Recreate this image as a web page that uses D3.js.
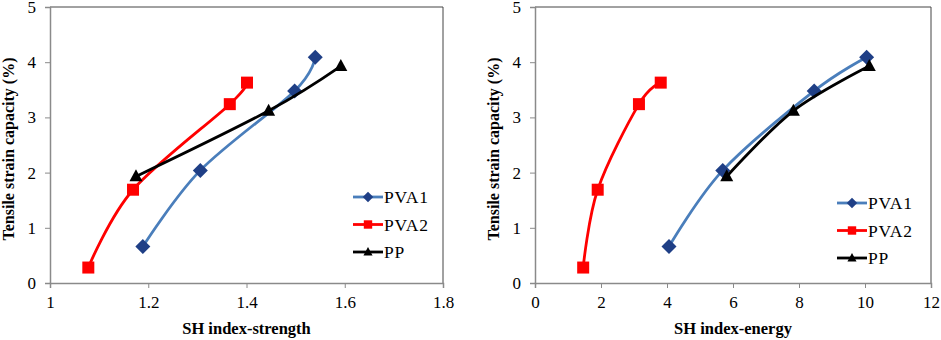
<!DOCTYPE html>
<html><head><meta charset="utf-8">
<script src="https://cdn.jsdelivr.net/npm/d3@7"></script>
<style>body{margin:0;background:#fff}svg{display:block}</style>
</head><body>
<svg id="c" width="941" height="340" style="font-family:'Liberation Serif',serif"></svg>
<script>
const seriesNames = ["PVA1", "PVA2", "PP"];
const seriesColors = ["#4a7ebb", "#ff0000", "#000000"];
const markerColors = ["#1f3f86", "#ff0000", "#000000"];
const yValues = {
  PVA1: [0.66, 2.04, 3.48, 4.09],
  PVA2: [0.28, 1.69, 3.24, 3.63],
  PP:   [1.93, 3.12, 3.93]
};
const xStrength = {
  PVA1: [1.189, 1.306, 1.498, 1.540],
  PVA2: [1.078, 1.169, 1.366, 1.401],
  PP:   [1.175, 1.445, 1.592]
};
const xEnergy = {
  PVA1: [4.06, 5.69, 8.46, 10.05],
  PVA2: [1.46, 1.90, 3.15, 3.81],
  PP:   [5.81, 7.83, 10.13]
};
const yTicks = [0, 1, 2, 3, 4, 5];
const xTicksStrength = [1, 1.2, 1.4, 1.6, 1.8];
const xTicksEnergy = [0, 2, 4, 6, 8, 10, 12];
const yTitle = "Tensile strain capacity (%)";

const FONT = "'Liberation Serif', serif";
const svg = d3.select("#c");

function panel(opt) {
  const g = svg.append("g");
  const x = d3.scaleLinear().domain(opt.xDomain).range([opt.left, opt.right]);
  const y = d3.scaleLinear().domain([0, 5]).range([283, 7]);

  g.append("line").attr("x1", opt.left).attr("x2", opt.right).attr("y1", 7).attr("y2", 7).attr("stroke", "#444").attr("stroke-width", 1);
  g.append("line").attr("x1", opt.right).attr("x2", opt.right).attr("y1", 7).attr("y2", 283).attr("stroke", "#444").attr("stroke-width", 1);

  const xa = g.append("g").attr("transform", "translate(0,283)")
    .call(d3.axisBottom(x).tickValues(opt.xTicks).tickSize(5).tickPadding(8).tickFormat(d => String(d)));
  const ya = g.append("g").attr("transform", `translate(${opt.left},0)`)
    .call(d3.axisLeft(y).tickValues(yTicks).tickSize(5).tickPadding(9).tickFormat(d => String(d)));
  [xa, ya].forEach(a => {
    a.attr("font-family", FONT).attr("font-size", 17);
    a.select(".domain").attr("stroke", "#8a8a8a").attr("stroke-width", 1.5);
    a.selectAll(".tick line").attr("stroke", "#8a8a8a").attr("stroke-width", 1);
    a.selectAll(".tick text").style("font-family", FONT).style("font-size", "17px").attr("fill", "#000");
  });

  g.append("text").attr("x", (opt.left + opt.right) / 2).attr("y", 334)
    .attr("text-anchor", "middle").style("font-family", FONT).style("font-size", "16.5px").attr("font-weight", "bold").text(opt.xTitle);
  g.append("text").attr("transform", `translate(${opt.yTitleX},149) rotate(-90)`)
    .attr("text-anchor", "middle").style("font-family", FONT).style("font-size", "16px").attr("font-weight", "bold").text(yTitle);

  const line = d3.line().x(d => x(d[0])).y(d => y(d[1])).curve(d3.curveCatmullRom.alpha(0));
  seriesNames.forEach((name, i) => {
    const pts = opt.xData[name].map((v, j) => [v, yValues[name][j]]);
    g.append("path").datum(pts).attr("d", line).attr("fill", "none")
      .attr("stroke", seriesColors[i]).attr("stroke-width", 2.8);
    pts.forEach(p => drawMarker(g, i, x(p[0]), y(p[1]), 1));
  });

  seriesNames.forEach((name, i) => {
    const ly = opt.legendY + i * 27.5;
    g.append("line").attr("x1", opt.legendX).attr("x2", opt.legendX + 30).attr("y1", ly).attr("y2", ly)
      .attr("stroke", seriesColors[i]).attr("stroke-width", 2.8);
    drawMarker(g, i, opt.legendX + 15, ly, 0.7);
    g.append("text").attr("x", opt.legendX + 31).attr("y", ly + 6).style("font-family", FONT).style("font-size", "17.5px")
      .attr("letter-spacing", 0.8).text(name);
  });
}

function drawMarker(g, i, cx, cy, s) {
  if (i === 0) {
    const r = 7.5 * s;
    g.append("path").attr("d", `M${cx},${cy - r}L${cx + r},${cy}L${cx},${cy + r}L${cx - r},${cy}Z`)
      .attr("fill", markerColors[0]);
  } else if (i === 1) {
    const h = 6 * s;
    g.append("rect").attr("x", cx - h).attr("y", cy - h).attr("width", 2 * h).attr("height", 2 * h)
      .attr("fill", markerColors[1]);
  } else {
    const h = 6.5 * s;
    g.append("path").attr("d", `M${cx},${cy - h * 1.1}L${cx + h},${cy + h * 0.75}L${cx - h},${cy + h * 0.75}Z`)
      .attr("fill", markerColors[2]);
  }
}

panel({ left: 50, right: 443, xDomain: [1, 1.8], xTicks: xTicksStrength, xData: xStrength,
  xTitle: "SH index-strength", yTitleX: 14, legendX: 353, legendY: 197 });
panel({ left: 535, right: 931, xDomain: [0, 12], xTicks: xTicksEnergy, xData: xEnergy,
  xTitle: "SH index-energy", yTitleX: 499, legendX: 837, legendY: 203 });
</script>
</body></html>
